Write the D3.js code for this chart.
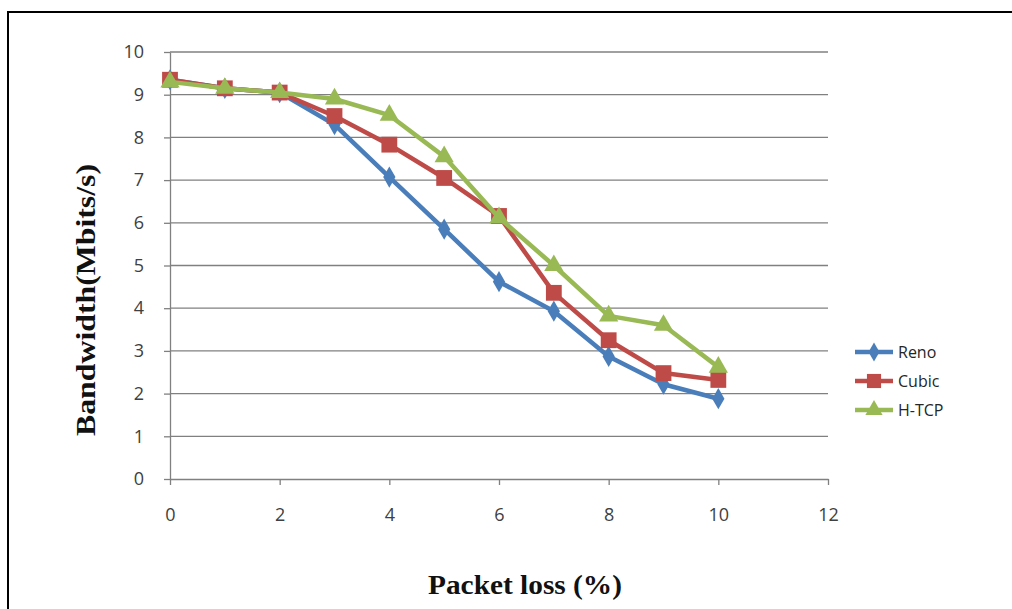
<!DOCTYPE html>
<html>
<head>
<meta charset="utf-8">
<script src="https://cdn.jsdelivr.net/npm/d3@7"></script>
<style>
  html, body { margin: 0; padding: 0; background: #fff; }
  svg { display: block; }
</style>
</head>
<body>
<svg id="chart" width="1012" height="609"></svg>
<script>
// Packet loss (%) on the x axis
const lossPercent = [0, 1, 2, 3, 4, 5, 6, 7, 8, 9, 10];

// Measured bandwidth (Mbits/s) for each TCP congestion-control variant
const renoValues  = [9.35, 9.15, 9.05, 8.3, 7.07, 5.85, 4.62, 3.93, 2.87, 2.22, 1.88];
const cubicValues = [9.35, 9.15, 9.05, 8.5, 7.83, 7.05, 6.16, 4.36, 3.25, 2.48, 2.32];
const htcpValues  = [9.3, 9.15, 9.05, 8.9, 8.52, 7.55, 6.12, 5.0, 3.82, 3.6, 2.62];

const seriesNames = ["Reno", "Cubic", "H-TCP"];
const xTicks = [0, 2, 4, 6, 8, 10, 12];
const yTicks = [0, 1, 2, 3, 4, 5, 6, 7, 8, 9, 10];

const series = [
  { name: seriesNames[0], values: renoValues,  color: "#4A7EBB", symbol: "diamond" },
  { name: seriesNames[1], values: cubicValues, color: "#BE4B48", symbol: "square" },
  { name: seriesNames[2], values: htcpValues,  color: "#98B954", symbol: "triangle" }
];

const svg = d3.select("#chart");

// outer frame
svg.append("rect")
  .attr("x", 8).attr("y", 12)
  .attr("width", 1020).attr("height", 620)
  .attr("fill", "none").attr("stroke", "#000").attr("stroke-width", 2);

const x = d3.scaleLinear().domain([0, 12]).range([170, 828]);
const y = d3.scaleLinear().domain([0, 10]).range([479, 52]);

const gridColor = "#808080";
const tickFont = "'Open Sans', sans-serif";

// horizontal gridlines
svg.append("g")
  .selectAll("line")
  .data(yTicks.filter(d => d > 0))
  .join("line")
  .attr("x1", x(0)).attr("x2", x(12))
  .attr("y1", d => y(d)).attr("y2", d => y(d))
  .attr("stroke", gridColor).attr("stroke-width", 1.3);

// x axis
const xAxis = svg.append("g")
  .attr("transform", `translate(0,${y(0)})`)
  .call(d3.axisBottom(x).tickValues(xTicks).tickSize(6).tickPadding(23).tickSizeOuter(0));
xAxis.select(".domain").attr("stroke", gridColor).attr("stroke-width", 1.3);
xAxis.selectAll(".tick line").attr("stroke", gridColor).attr("stroke-width", 1.3);
xAxis.selectAll("text")
  .attr("font-family", tickFont)
  .attr("font-size", 18).attr("fill", "#404040");

// y axis
const yAxis = svg.append("g")
  .attr("transform", `translate(${x(0)},0)`)
  .call(d3.axisLeft(y).tickValues(yTicks).tickSize(6).tickPadding(20).tickSizeOuter(0));
yAxis.select(".domain").attr("stroke", gridColor).attr("stroke-width", 1.3);
yAxis.selectAll(".tick line").attr("stroke", gridColor).attr("stroke-width", 1.3);
yAxis.selectAll("text")
  .attr("font-family", tickFont)
  .attr("font-size", 18).attr("fill", "#404040");

// axis titles
svg.append("text")
  .attr("transform", "translate(95,300) rotate(-90)")
  .attr("text-anchor", "middle")
  .attr("font-family", "'Liberation Serif', 'Times New Roman', serif")
  .attr("font-weight", "bold").attr("font-size", 27).attr("fill", "#111")
  .attr("textLength", 272).attr("lengthAdjust", "spacingAndGlyphs")
  .text("Bandwidth(Mbits/s)");

svg.append("text")
  .attr("x", 525).attr("y", 594)
  .attr("text-anchor", "middle")
  .attr("font-family", "'Liberation Serif', 'Times New Roman', serif")
  .attr("font-weight", "bold").attr("font-size", 27).attr("fill", "#111")
  .attr("textLength", 194).attr("lengthAdjust", "spacingAndGlyphs")
  .text("Packet loss (%)");

const symbolTypes = { diamond: d3.symbolDiamond, square: d3.symbolSquare, triangle: d3.symbolTriangle };
const symbolSizes = { diamond: 130, square: 250, triangle: 160 };

const line = d3.line().x((d, i) => x(lossPercent[i])).y(d => y(d));

series.forEach(s => {
  const g = svg.append("g");
  g.append("path")
    .attr("d", line(s.values))
    .attr("fill", "none")
    .attr("stroke", s.color).attr("stroke-width", 4.5)
    .attr("stroke-linejoin", "round");
  g.selectAll("path.marker")
    .data(s.values)
    .join("path")
    .attr("class", "marker")
    .attr("transform", (d, i) => `translate(${x(lossPercent[i])},${y(d)})`)
    .attr("d", d3.symbol().type(symbolTypes[s.symbol]).size(symbolSizes[s.symbol]))
    .attr("fill", s.color);
});

// legend
const legend = svg.append("g").attr("transform", "translate(855,352)");
series.forEach((s, i) => {
  const row = legend.append("g").attr("transform", `translate(0,${i * 29})`);
  row.append("line")
    .attr("x1", 0).attr("x2", 38)
    .attr("stroke", s.color).attr("stroke-width", 4.5);
  row.append("path")
    .attr("transform", "translate(19,0)")
    .attr("d", d3.symbol().type(symbolTypes[s.symbol]).size(symbolSizes[s.symbol] * 0.8))
    .attr("fill", s.color);
  row.append("text")
    .attr("x", 43).attr("y", 0).attr("dy", "0.35em")
    .attr("font-family", tickFont)
    .attr("font-size", 16).attr("fill", "#262626")
    .text(s.name);
});
</script>
</body>
</html>
